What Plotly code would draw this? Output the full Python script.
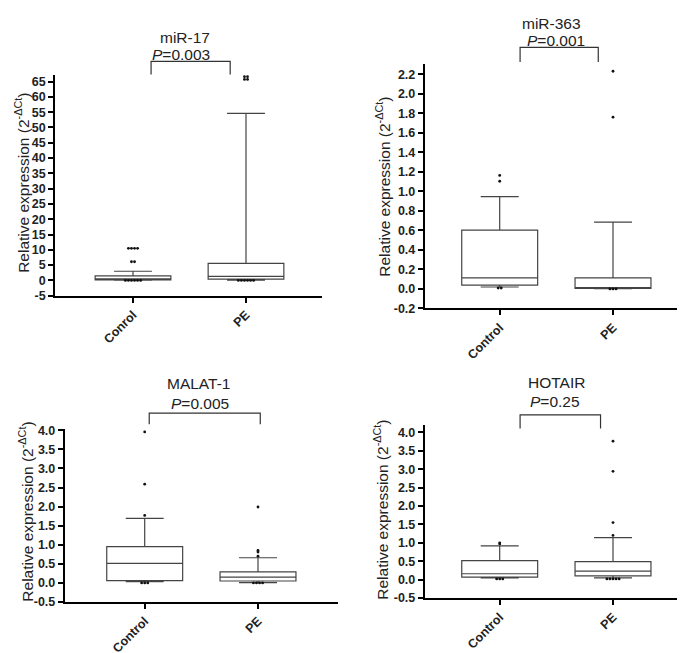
import plotly.graph_objects as go

W, H = 685, 653

# ---------------- data ----------------
titles = ["miR-17", "miR-363", "MALAT-1", "HOTAIR"]
p_values = ["0.003", "0.001", "0.005", "0.25"]
tick_labels_p1 = ["Conrol", "PE"]
tick_labels = ["Control", "PE"]

# box statistics per panel: [Control, PE]
mir17_q1 = [0.2, 0.4]
mir17_median = [0.5, 1.3]
mir17_q3 = [1.5, 5.6]
mir17_low = [0.05, 0.1]
mir17_high = [3.0, 54.6]
mir17_out_control = [10.5, 10.5, 10.5, 10.5, 6.1, 6.1, 0.0, 0.0, 0.0, 0.0, 0.0, 0.0]
mir17_out_pe = [66.6, 66.6, 65.7, 65.7, 0.0, 0.0, 0.0, 0.0, 0.0, 0.0]

mir363_q1 = [0.04, 0.005]
mir363_median = [0.114, 0.01]
mir363_q3 = [0.604, 0.114]
mir363_low = [0.02, 0.003]
mir363_high = [0.947, 0.685]
mir363_out_control = [1.165, 1.105, 0.01, 0.01]
mir363_out_pe = [2.233, 1.762, 0.0, 0.0, 0.0]

malat_q1 = [0.06, 0.05]
malat_median = [0.51, 0.15]
malat_q3 = [0.95, 0.29]
malat_low = [0.03, 0.01]
malat_high = [1.69, 0.66]
malat_out_control = [3.96, 2.59, 1.77, 0.0, 0.0, 0.0]
malat_out_pe = [1.99, 0.85, 0.81, 0.70, 0.0, 0.0, 0.0, 0.0]

hotair_q1 = [0.07, 0.10]
hotair_median = [0.16, 0.23]
hotair_q3 = [0.515, 0.49]
hotair_low = [0.05, 0.05]
hotair_high = [0.915, 1.14]
hotair_out_control = [1.0, 0.97, 0.02, 0.02, 0.02]
hotair_out_pe = [3.76, 2.94, 1.55, 1.2, 0.02, 0.02, 0.02, 0.02, 0.02]

panel_stats = [
    (mir17_q1, mir17_median, mir17_q3, mir17_low, mir17_high, mir17_out_control, mir17_out_pe),
    (mir363_q1, mir363_median, mir363_q3, mir363_low, mir363_high, mir363_out_control, mir363_out_pe),
    (malat_q1, malat_median, malat_q3, malat_low, malat_high, malat_out_control, malat_out_pe),
    (hotair_q1, hotair_median, hotair_q3, hotair_low, hotair_high, hotair_out_control, hotair_out_pe),
]

# ---------------- layout geometry (pixels) ----------------
# left, cat0, cat1, right, top, bottom
geom = [
    (47, 125, 238, 314, 63, 288),
    (416.7, 491.7, 605, 680, 51.7, 301),
    (56.7, 136.7, 250, 330, 424, 600),
    (416.7, 491.7, 605, 681.7, 419.3, 596),
]
yranges = [(-5, 67.2), (-0.2, 2.31), (-0.5, 4.03), (-0.5, 4.21)]
ytick_specs = [(-5, 65, 5, 0), (-0.2, 2.2, 0.2, 1), (-0.5, 4.0, 0.5, 1), (-0.5, 4.0, 0.5, 1)]
title_pos = [((177, 25), (173, 42)), ((543, 11), (548, 28)), ((190, 377), (192, 398)), ((548, 376), (547, 396))]
ytitle_pos = [(14, 173), (375, 177), (18, 508), (373, 506)]
brackets = [((0.16, 0.86), (49.3, 62.7)), ((0.18, 0.87), (35, 50)),
            ((0.04, 1.02), (407.7, 419)), ((0.18, 0.89), (409.3, 423.3))]

FONT = "Liberation Sans, Arial, sans-serif"
BOXCOL = "#444444"

def px_x(p):
    return p / W

def px_y(p):
    return 1 - p / H

fig = go.Figure()
layout = dict(width=W, height=H, margin=dict(l=0, r=0, t=0, b=0),
              paper_bgcolor="white", plot_bgcolor="white", showlegend=False,
              annotations=[], shapes=[])

for i, stats in enumerate(panel_stats):
    n = i + 1
    xa = "x" if n == 1 else f"x{n}"
    ya = "y" if n == 1 else f"y{n}"
    q1, med, q3, lo, hi, out_c, out_p = stats
    for g in range(2):
        fig.add_trace(go.Box(
            x=[g], q1=[q1[g]], median=[med[g]], q3=[q3[g]],
            lowerfence=[lo[g]], upperfence=[hi[g]],
            width=0.67, whiskerwidth=0.5, boxpoints=False,
            fillcolor="white", line=dict(color=BOXCOL, width=1.2),
            xaxis=xa, yaxis=ya, hoverinfo="skip"))
        outs = out_c if g == 0 else out_p
        # spread equal values side by side
        xs, ys = [], []
        groups = {}
        for v in outs:
            groups.setdefault(v, 0)
            groups[v] += 1
        for v, cnt in groups.items():
            for k in range(cnt):
                xs.append(g + (k - (cnt - 1) / 2) * 0.027)
                ys.append(v)
        fig.add_trace(go.Scatter(x=xs, y=ys, mode="markers",
                                 marker=dict(color="#111", size=2.8),
                                 xaxis=xa, yaxis=ya, hoverinfo="skip"))

    left, c0, c1, right, top, bottom = geom[i]
    span = c1 - c0
    xr = [(left - c0) / span, (right - c0) / span]
    t0, t1, dt, dec = ytick_specs[i]
    nt = int(round((t1 - t0) / dt)) + 1
    tv = [round(t0 + k * dt, 3) for k in range(nt)]
    tt = [f"{v:.{dec}f}" for v in tv]
    axis_common = dict(showline=True, linecolor="black", linewidth=1.8,
                       ticks="outside", ticklen=5, tickwidth=1.5, tickcolor="black",
                       showgrid=False, zeroline=False,
                       tickfont=dict(family=FONT, size=12.5, color="#222", weight="bold"))
    layout["xaxis" if n == 1 else f"xaxis{n}"] = dict(
        axis_common, domain=[px_x(left), px_x(right)], range=xr,
        anchor=ya, tickvals=[0, 1],
        ticktext=tick_labels_p1 if n == 1 else tick_labels,
        tickangle=-45,
        tickfont=dict(family=FONT, size=12.5, color="#222", weight="bold"))
    layout["yaxis" if n == 1 else f"yaxis{n}"] = dict(
        axis_common, domain=[px_y(bottom), px_y(top)], range=list(yranges[i]),
        anchor=xa, tickvals=tv, ticktext=tt)

    (tx, ty), (px_, py_) = title_pos[i]
    layout["annotations"].append(dict(text=titles[i], x=px_x(tx), y=px_y(ty),
                                      xref="paper", yref="paper", showarrow=False,
                                      xanchor="center", yanchor="middle",
                                      font=dict(family=FONT, size=15.5, color="#222")))
    layout["annotations"].append(dict(text=f"<i>P</i>={p_values[i]}", x=px_x(px_), y=px_y(py_),
                                      xref="paper", yref="paper", showarrow=False,
                                      xanchor="center", yanchor="middle",
                                      font=dict(family=FONT, size=15.5, color="#222")))
    yx, yy = ytitle_pos[i]
    layout["annotations"].append(dict(text="Relative expression (2<sup>-ΔCt</sup>)",
                                      x=px_x(yx), y=px_y(yy), xref="paper", yref="paper",
                                      showarrow=False, textangle=-90,
                                      xanchor="center", yanchor="middle",
                                      font=dict(family=FONT, size=15.5, color="#222")))
    (bx0, bx1), (byt, byb) = brackets[i]
    layout["shapes"].append(dict(
        type="path", xref=xa, yref="paper",
        path=f"M {bx0},{px_y(byb)} L {bx0},{px_y(byt)} L {bx1},{px_y(byt)} L {bx1},{px_y(byb)}",
        line=dict(color="#333", width=1.2)))

fig.update_layout(**layout)
fig.write_html("out.html")
